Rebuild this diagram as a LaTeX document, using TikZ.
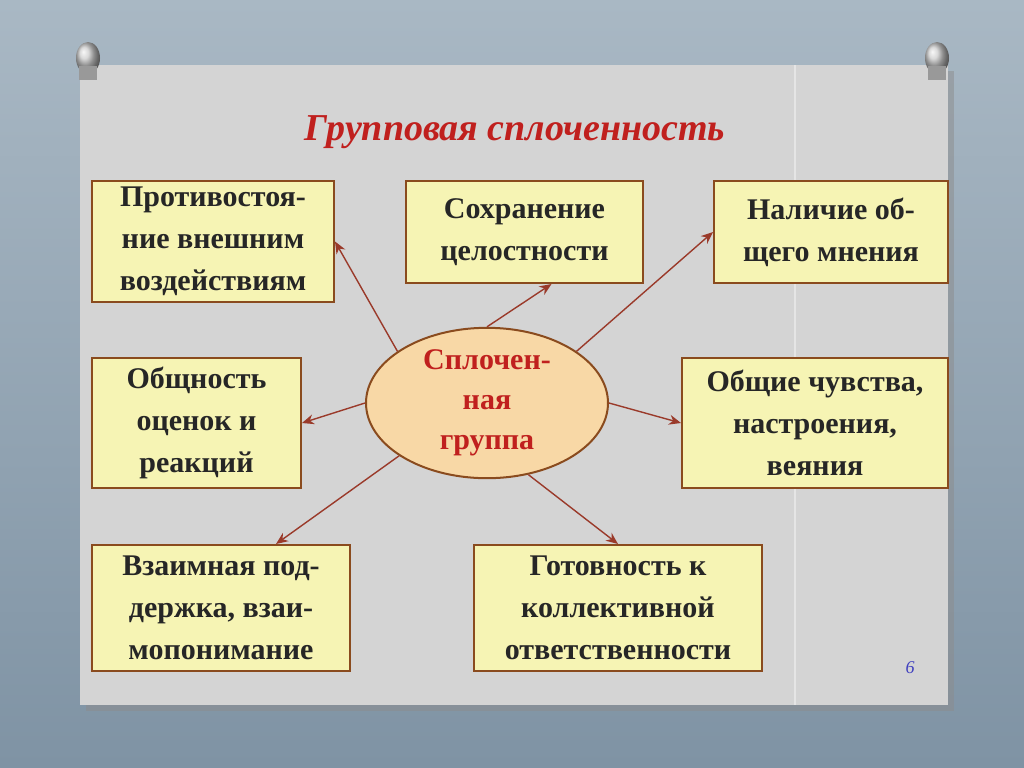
\documentclass[tikz,border=0pt]{standalone}
\usepackage{fontspec}
\setmainfont{Liberation Serif}
\usetikzlibrary{shapes.geometric,calc,arrows.meta,shadows}
\definecolor{bgA}{HTML}{A9B8C4}
\definecolor{bgB}{HTML}{7F93A4}
\definecolor{panel}{HTML}{D4D4D4}
\definecolor{boxfill}{HTML}{F6F4B4}
\definecolor{boxline}{HTML}{8A4B1E}
\definecolor{ellfill}{HTML}{F8D8A6}
\definecolor{arr}{HTML}{9A3A2A}
\definecolor{titlered}{HTML}{C0201E}
\begin{document}
\begin{tikzpicture}[x=0.5pt,y=-0.5pt,
  box/.style={draw=boxline,line width=1pt,fill=boxfill,align=center,inner sep=2pt,
    font=\fontsize{15}{21}\selectfont\bfseries,text=black!85},
  link/.style={draw=arr,line width=0.7pt,-{Stealth[length=6pt,width=5pt]}}]
\useasboundingbox (0,0) rectangle (1024,767);
\shade[top color=bgA,bottom color=bgB] (0,0) rectangle (1024,767);
\fill[black!45,opacity=0.5] (86,71) rectangle (954,711);
\fill[panel] (80,65) rectangle (948,705);
\draw[white!40!panel,line width=0.8pt] (795,65) -- (795,705);
\foreach \px in {88,937}{
  \shade[ball color=gray!40] (\px,58) ellipse (12 and 16);
  \fill[gray!80] (\px-9,66) rectangle (\px+9,80);
}
\node[font=\fontsize{19}{22}\selectfont\bfseries\itshape,text=titlered] (t) at (515,132) {Групповая сплоченность};
\node[box,minimum width=121pt,minimum height=60.5pt] (b1) at (213,241.5) {Противостоя-\\ние внешним\\воздействиям};
\node[box,minimum width=118.5pt,minimum height=51pt] (b2) at (524.5,232) {Сохранение\\целостности};
\node[box,minimum width=117pt,minimum height=51pt] (b3) at (831,232) {Наличие об-\\щего мнения};
\node[box,minimum width=104.5pt,minimum height=65pt] (b4) at (196.5,423) {Общность\\оценок и\\реакций};
\node[box,minimum width=133pt,minimum height=65pt] (b5) at (815,423) {Общие чувства,\\настроения,\\веяния};
\node[box,minimum width=129pt,minimum height=63pt] (b6) at (221,608) {Взаимная под-\\держка, взаи-\\мопонимание};
\node[box,minimum width=144pt,minimum height=63pt] (b7) at (618,608) {Готовность к\\коллективной\\ответственности};
\node[ellipse,draw=boxline,line width=1pt,fill=ellfill,minimum width=121pt,minimum height=63pt,inner sep=0pt,
  align=center,font=\fontsize{15}{20}\selectfont\bfseries,text=titlered] (e) at (487,403) {Сплочен-\\ная\\группа};
\node[font=\fontsize{9}{10}\selectfont\itshape,text=blue!50!gray] (pg) at (910,668) {6};
\draw[link] (e.150) -- (b1.east);
\draw[link] (e.90) -- ($(b2.south)+(27,0)$);
\draw[link] (e.30) -- (b3.west);
\draw[link] (e.west) -- (b4.east);
\draw[link] (e.east) -- (b5.west);
\draw[link] (e.211) -- ($(b6.north)+(55,0)$);
\draw[link] (e.-60) -- (b7.north);
\end{tikzpicture}
\end{document}
